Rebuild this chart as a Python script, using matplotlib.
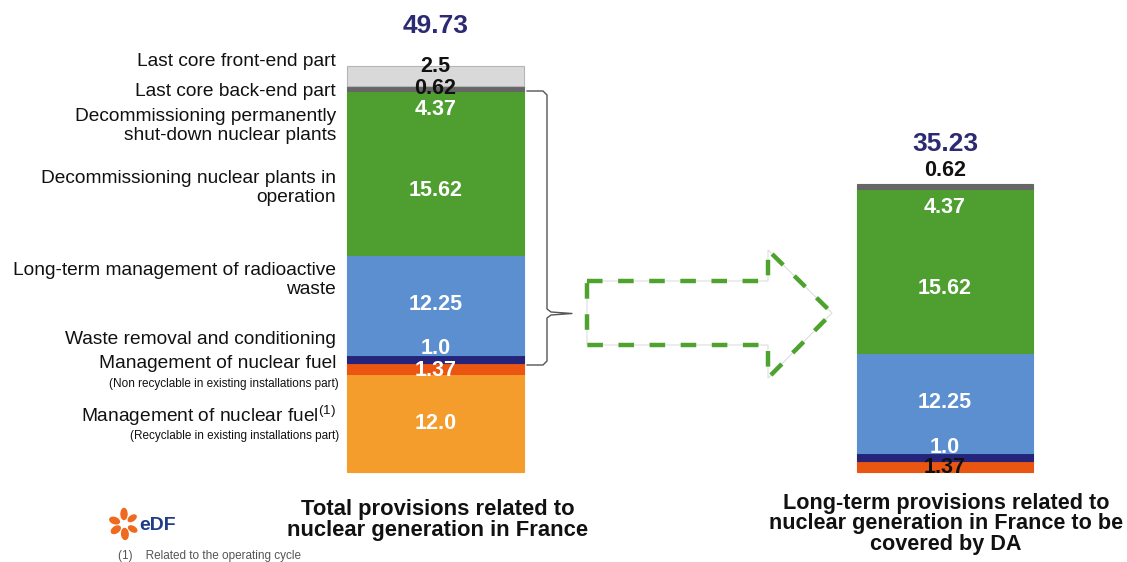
import numpy as np
import matplotlib
matplotlib.use("Agg")
import matplotlib.pyplot as plt
from matplotlib.patches import Ellipse, Polygon

plt.rcParams['font.family'] = ['Liberation Sans', 'DejaVu Sans']
plt.rcParams['mathtext.fontset'] = 'custom'
plt.rcParams['mathtext.rm'] = 'Liberation Sans'

# ---- data (bottom to top of each stack) ----
segments = ["Fuel recyclable", "Fuel non recyclable", "Waste removal",
            "Radioactive waste", "Decom. in operation", "Decom. shut-down",
            "Last core back-end", "Last core front-end"]
total_vals = [12.0, 1.37, 1.0, 12.25, 15.62, 4.37, 0.62, 2.5]
da_vals = [0.0, 1.37, 1.0, 12.25, 15.62, 4.37, 0.62, 0.0]
total_sum = 49.73
da_sum = 35.23

seg_colors = ['#f59d2c', '#ea5512', '#24247a', '#5b8fd0',
              '#4f9f30', '#4f9f30', '#666666', '#d9d9d9']

# left hand category labels: (text, sub text, pixel y of main line)
cat_labels = [
    ("Last core front-end part", None, 61),
    ("Last core back-end part", None, 91),
    ("Decommissioning permanently\nshut-down nuclear plants", None, 126),
    ("Decommissioning nuclear plants in\noperation", None, 188),
    ("Long-term management of radioactive\nwaste", None, 280),
    ("Waste removal and conditioning", None, 340),
    ("Management of nuclear fuel", "(Non recyclable in existing installations part)", 364),
    ("Management of nuclear fuel$^{\\mathrm{(1)}}$", "(Recyclable in existing installations part)", 416),
]

W, H = 1127, 562
fig = plt.figure(figsize=(W / 100, H / 100), dpi=100)

# bar axes: x in pixels, y in data units (0 at pixel 472, total at pixel 66)
ax = fig.add_axes([0, 0, 1, 1])
scale = (472 - 66) / total_sum
ax.set_xlim(0, W)
ax.set_ylim(-(H - 472) / scale, 472 / scale)
ax.axis('off')

# overlay axes in pixel coordinates
ov = fig.add_axes([0, 0, 1, 1], zorder=3)
ov.set_xlim(0, W)
ov.set_ylim(H, 0)
ov.axis('off')
ov.patch.set_alpha(0)

bar_x = [435.5, 945]
bar_w = [177, 176]
PT = 0.72  # pixels -> points at dpi 100

# label tweaks (colour, pixel shift) per segment
left_style = [('white', 0), ('white', 2), ('white', -10), ('white', 0),
              ('white', 0), ('white', 0), ('#111111', 0), ('#111111', 0)]
right_style = [('white', 0), ('#111111', 1), ('white', -9), ('white', 0),
               ('white', 0), ('white', 0), ('#111111', None), ('white', 0)]

for xi, wi, vals, styles, tot in [(bar_x[0], bar_w[0], total_vals, left_style, total_sum),
                                  (bar_x[1], bar_w[1], da_vals, right_style, da_sum)]:
    bottom = 0.0
    for i, v in enumerate(vals):
        if v <= 0:
            continue
        ec = '#b5b5b5' if i == 7 else seg_colors[i]
        ax.bar(xi, v, width=wi, bottom=bottom, color=seg_colors[i],
               edgecolor=ec, linewidth=0.8)
        col, shift = styles[i]
        if shift is None:
            ax.annotate(str(v), (xi, bottom + v), xytext=(0, 3 * PT),
                        textcoords='offset points', ha='center', va='bottom',
                        fontsize=15.5, fontweight='bold', color=col)
        else:
            ypos = bottom + v if i == 7 else bottom + v / 2
            ax.annotate(str(v), (xi, ypos), xytext=(0, -shift * PT),
                        textcoords='offset points', ha='center', va='center',
                        fontsize=15.5, fontweight='bold', color=col, zorder=5)
        bottom += v
    ax.annotate(f"{tot:.2f}", (xi, tot), xytext=(0, 40 * PT),
                textcoords='offset points', ha='center', va='center',
                fontsize=19, fontweight='bold', color='#2b2a72')

# category labels on the left
for txt, sub, yy in cat_labels:
    ov.text(336, yy, txt, ha='right', va='center', fontsize=13.8,
            color='#111111', linespacing=1.15)
    if sub:
        ov.text(339, yy + 20, sub, ha='right', va='center', fontsize=8.5,
                color='#111111')

# bracket
br = [(527, 91), (543, 91), (547, 95), (547, 309), (551, 312), (572, 313.5),
      (551, 315), (547, 318), (547, 361), (543, 365), (527, 365)]
ov.plot([p[0] for p in br], [p[1] for p in br], color='#555555', lw=1.0)

# dashed arrow
arrow = [(587, 281), (768, 281), (768, 250), (832, 313), (768, 378),
         (768, 345), (587, 345)]
ov.add_patch(Polygon(arrow, closed=True, fill=False, edgecolor='#dddddd', lw=0.8))
ov.add_patch(Polygon(arrow, closed=True, fill=False, edgecolor='#4ea32f',
                     lw=3.2, linestyle=(0, (3.5, 3.5))))

# bottom titles
ov.text(438, 520, "Total provisions related to\nnuclear generation in France",
        ha='center', va='center', fontsize=15.8, fontweight='bold',
        color='#111111', linespacing=1.0)
ov.text(946, 524, "Long-term provisions related to\nnuclear generation in France to be\ncovered by DA",
        ha='center', va='center', fontsize=15.6, fontweight='bold',
        color='#111111', linespacing=0.98)

# EDF logo (petals + letters)
cx, cy = 124, 524
for ang, r, ln, wd in [(90, 10, 11, 6), (35, 10, 9, 5), (160, 10, 10, 6),
                       (215, 10, 10, 6), (275, 10, 11, 6.5), (330, 10, 9, 5)]:
    a = np.deg2rad(ang)
    ov.add_patch(Ellipse((cx + r * np.cos(a), cy - r * np.sin(a)), ln, wd,
                         angle=-ang, color='#ee6a1f'))
ov.text(139, 525, "eDF", ha='left', va='center', fontsize=14,
        fontweight='bold', color='#1f3c88')

# footnote
ov.text(118, 556, "(1)    Related to the operating cycle", ha='left', va='center',
        fontsize=8.5, color='#555555')

fig.savefig("out.png", dpi=100)
